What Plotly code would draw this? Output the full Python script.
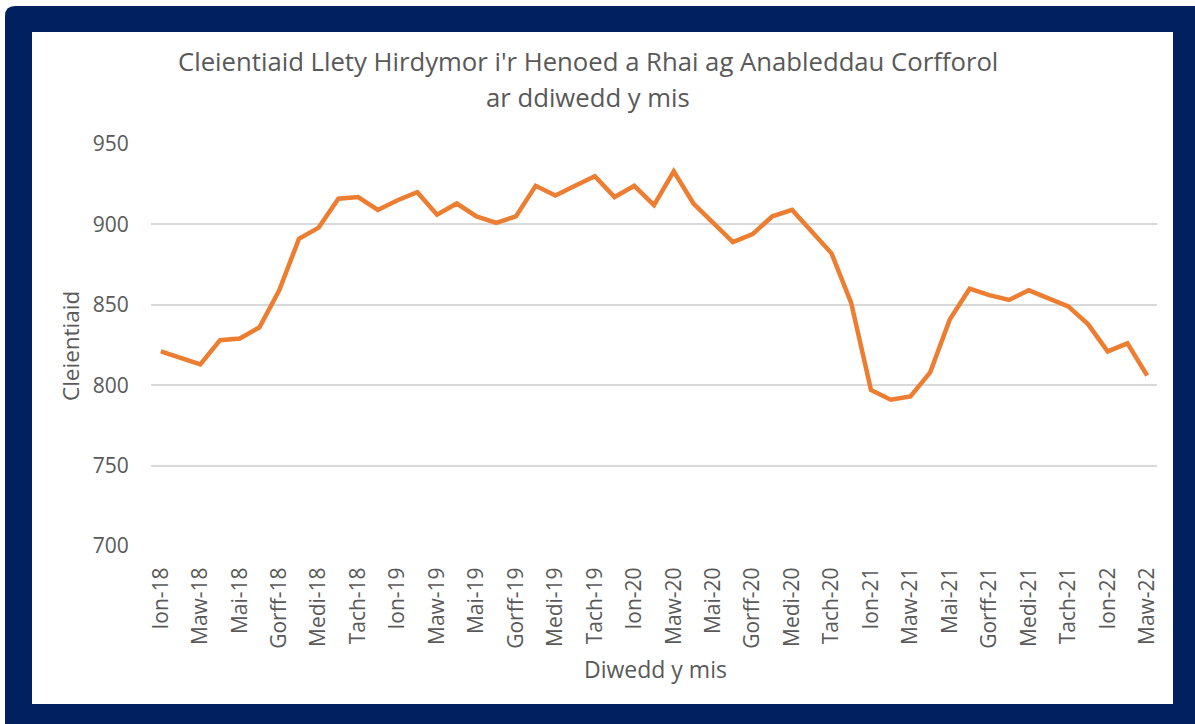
import plotly.graph_objects as go

# ---- data ----
months = ["Ion", "Chwef", "Maw", "Ebr", "Mai", "Meh", "Gorff", "Awst", "Medi", "Hyd", "Tach", "Rhag"]
years = ["18", "19", "20", "21", "22"]
categories = [f"{m}-{y}" for y in years for m in months][:51]

clients = [
    821, 817, 813, 828, 829, 836, 859, 891, 898, 916, 917, 909,   # 2018
    915, 920, 906, 913, 905, 901, 905, 924, 918, 924, 930, 917,   # 2019
    924, 912, 933, 913, 901, 889, 894, 905, 909, 896, 882, 851,   # 2020
    797, 791, 793, 808, 841, 860, 856, 853, 859, 854, 849, 838,   # 2021
    821, 826, 806,                                                 # 2022
]
tick_labels = categories[::2]
y_ticks = [700, 750, 800, 850, 900, 950]

title_lines = ["Cleientiaid Llety Hirdymor i'r Henoed a Rhai ag Anableddau Corfforol",
               "ar ddiwedd y mis"]
y_title = "Cleientiaid"
x_title = "Diwedd y mis"

# ---- layout geometry (pixels) ----
W, H = 1195, 724
L, R, T, B = 151, 1157, 144, 546
NAVY = "#002060"
ORANGE = "#ED7D31"
GREY = "#595959"
FONT = "'Open Sans', sans-serif"


def px(x):
    return (x - L) / (R - L)


def py(y):
    return (B - y) / (B - T)


fig = go.Figure()
fig.add_trace(go.Scatter(
    x=categories, y=clients, mode="lines",
    line=dict(color=ORANGE, width=4.5),
    hoverinfo="x+y", showlegend=False,
))

shapes = [
    # navy frame with rounded top-left corner
    dict(type="path", xref="paper", yref="paper", layer="below",
         path=(f"M {px(5)},{py(16)} Q {px(5)},{py(6)} {px(15)},{py(6)} "
               f"L {px(1200)},{py(6)} L {px(1200)},{py(730)} L {px(5)},{py(730)} Z"),
         fillcolor=NAVY, line=dict(width=0)),
    # white panel
    dict(type="rect", xref="paper", yref="paper", layer="below",
         x0=px(32), x1=px(1173), y0=py(704), y1=py(32),
         fillcolor="white", line=dict(width=0)),
]

annotations = [
    dict(text=title_lines[0], xref="paper", yref="paper", x=px(588), y=py(62),
         showarrow=False, xanchor="center", yanchor="middle",
         font=dict(family=FONT, size=25.7, color=GREY)),
    dict(text=title_lines[1], xref="paper", yref="paper", x=px(588), y=py(98),
         showarrow=False, xanchor="center", yanchor="middle",
         font=dict(family=FONT, size=25.7, color=GREY)),
    dict(text=y_title, xref="paper", yref="paper", x=px(70), y=py(346),
         showarrow=False, xanchor="center", yanchor="middle", textangle=-90,
         font=dict(family=FONT, size=22.5, color=GREY)),
    dict(text=x_title, xref="paper", yref="paper", x=px(655), y=py(669),
         showarrow=False, xanchor="center", yanchor="middle",
         font=dict(family=FONT, size=23, color=GREY)),
]

fig.update_layout(
    width=W, height=H,
    margin=dict(l=L, r=W - R, t=T, b=H - B, pad=0),
    paper_bgcolor="white",
    plot_bgcolor="rgba(0,0,0,0)",
    shapes=shapes,
    annotations=annotations,
    showlegend=False,
    font=dict(family=FONT, color=GREY),
    xaxis=dict(
        type="category",
        range=[-0.5, len(categories) - 0.5],
        tickmode="array", tickvals=tick_labels, ticktext=tick_labels,
        tickangle=-90, tickfont=dict(family=FONT, size=21, color=GREY),
        showgrid=False, zeroline=False, showline=False,
        ticks="outside", ticklen=12, tickcolor="rgba(0,0,0,0)",
    ),
    yaxis=dict(
        range=[700, 950], tickmode="array", tickvals=y_ticks,
        tickfont=dict(family=FONT, size=21, color=GREY),
        showgrid=True, gridcolor="#D9D9D9", gridwidth=1.5,
        zeroline=False, showline=False,
        ticks="outside", ticklen=17, tickcolor="rgba(0,0,0,0)",
    ),
)

fig.write_html("out.html", config={"displayModeBar": False},
               post_script="document.body.style.margin='0';")
